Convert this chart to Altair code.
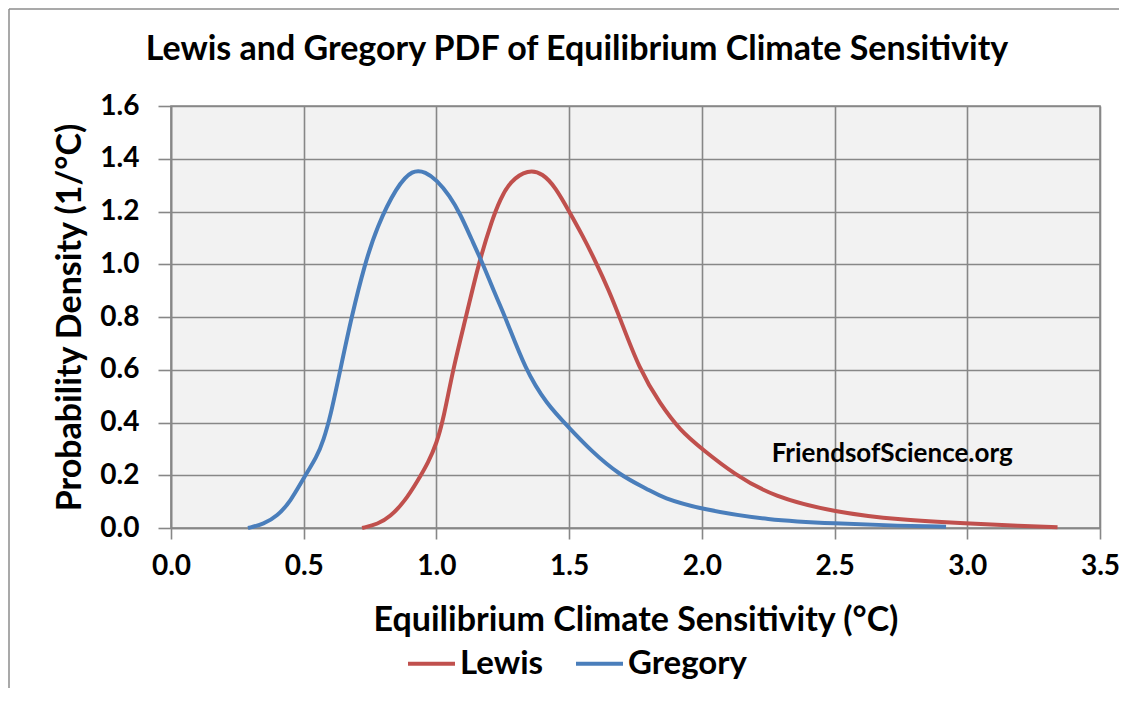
import altair as alt
import pandas as pd

# Gregory PDF
greg_x = [0.29, 0.35, 0.40, 0.45, 0.50, 0.55, 0.575, 0.60, 0.64, 0.68, 0.73, 0.775, 0.85, 0.91, 0.96,
          1.00, 1.05, 1.09, 1.13, 1.18, 1.215, 1.26, 1.335, 1.415, 1.50, 1.58, 1.69, 1.80, 1.85,
          2.00, 2.25, 2.50, 2.75, 2.92]
greg_y = [0.0, 0.015, 0.045, 0.10, 0.19, 0.27, 0.335, 0.42, 0.61, 0.80, 1.00, 1.14, 1.295, 1.36, 1.35,
          1.32, 1.26, 1.19, 1.10, 0.99, 0.90, 0.80, 0.60, 0.47, 0.38, 0.295, 0.20, 0.145, 0.115,
          0.07, 0.03, 0.017, 0.008, 0.005]

# Lewis PDF
lewis_x = [0.72, 0.78, 0.825, 0.88, 0.93, 0.97, 1.00, 1.026, 1.064, 1.114, 1.158, 1.21, 1.24, 1.277,
           1.346, 1.40, 1.45, 1.50, 1.55, 1.60, 1.65, 1.69, 1.765, 1.843, 1.918, 2.00, 2.12,
           2.27, 2.50, 2.75, 3.00, 3.20, 3.34]
lewis_y = [0.0, 0.015, 0.042, 0.10, 0.18, 0.25, 0.32, 0.41, 0.61, 0.81, 1.00, 1.17, 1.245, 1.315,
           1.36, 1.345, 1.29, 1.20, 1.11, 1.01, 0.90, 0.80, 0.60, 0.47, 0.37, 0.30, 0.205,
           0.118, 0.06, 0.03, 0.017, 0.008, 0.003]

series_names = ["Lewis", "Gregory"]
series_colors = ["#C0504D", "#4A7EBB"]

x_ticks = [0.0, 0.5, 1.0, 1.5, 2.0, 2.5, 3.0, 3.5]
y_ticks = [0.0, 0.2, 0.4, 0.6, 0.8, 1.0, 1.2, 1.4, 1.6]

title_text = ["Lewis and Gregory PDF of Equilibrium Climate Sensitivity"]
x_title = "Equilibrium Climate Sensitivity (°C)"
y_title = "Probability Density (1/°C)"
watermark = ["FriendsofScience.org"]
watermark_x = [2.717]
watermark_y = [0.28]

FONT = "Lato"
GRID = "#878787"

df = pd.concat([
    pd.DataFrame({"ecs": lewis_x, "pdf": lewis_y, "series": "Lewis", "order": range(len(lewis_x))}),
    pd.DataFrame({"ecs": greg_x, "pdf": greg_y, "series": "Gregory", "order": range(len(greg_x))}),
])

W, H = 929, 422
PAD_L, PAD_T, PAD_R, PAD_B = 163, 98, 19, 160

x_scale = alt.Scale(domain=[0, 3.5], nice=False)
y_scale = alt.Scale(domain=[0, 1.6], nice=False)

lines = alt.Chart(df).mark_line(strokeWidth=4, interpolate="basis").encode(
    x=alt.X("ecs:Q", scale=x_scale,
            axis=alt.Axis(values=x_ticks, format=".1f", title=x_title, labelFlush=False,
                          tickSize=11, labelPadding=13, titlePadding=23)),
    y=alt.Y("pdf:Q", scale=y_scale,
            axis=alt.Axis(values=y_ticks, format=".1f", title=y_title, labelFlush=False,
                          tickSize=13, labelPadding=19, titlePadding=12)),
    color=alt.Color("series:N",
                    scale=alt.Scale(domain=series_names, range=series_colors),
                    sort=series_names,
                    legend=alt.Legend(title=None, orient="none", direction="horizontal",
                                      legendX=235, legendY=532,
                                      symbolType="stroke", symbolSize=2209, symbolStrokeWidth=4,
                                      labelFont=FONT, labelFontSize=33, labelFontWeight="bold",
                                      labelColor="#000000", labelOffset=3, columnPadding=24)),
    detail="series:N",
    order="order:Q",
)

wm = alt.Chart(pd.DataFrame({"t": watermark, "x": watermark_x, "y": watermark_y})).mark_text(
    font=FONT, fontSize=26, fontWeight="bold", color="#000000", align="center", baseline="middle"
).encode(x=alt.X("x:Q", scale=x_scale), y=alt.Y("y:Q", scale=y_scale), text="t:N")

title = alt.Chart(pd.DataFrame({"t": title_text})).mark_text(
    font=FONT, fontSize=34, fontWeight="bold", color="#000000", align="center", baseline="alphabetic"
).encode(x=alt.value(406), y=alt.value(-46), text="t:N")

frame_top = alt.Chart(pd.DataFrame({"a": [0]})).mark_rule(color="#8c8c8c", strokeWidth=1.5).encode(
    x=alt.value(-PAD_L + 1), x2=alt.value(W + PAD_R), y=alt.value(-PAD_T + 1))
frame_left = alt.Chart(pd.DataFrame({"a": [0]})).mark_rule(color="#8c8c8c", strokeWidth=1.5).encode(
    x=alt.value(-PAD_L + 1), y=alt.value(-PAD_T + 1), y2=alt.value(H + PAD_B))

chart = alt.layer(lines, wm, title, frame_top, frame_left).properties(
    width=W, height=H,
    background="#FFFFFF",
    autosize=alt.AutoSizeParams(type="none"),
    padding={"left": PAD_L, "top": PAD_T, "right": PAD_R, "bottom": PAD_B},
).configure_view(
    fill="#F2F2F2", stroke=GRID, strokeWidth=1.6
).configure_axis(
    gridColor=GRID, gridWidth=1.6, gridOpacity=1,
    domainColor=GRID, domainWidth=1.6, tickColor=GRID, tickWidth=1.6,
    labelFont=FONT, labelFontSize=28, labelFontWeight="bold", labelColor="#000000",
    titleFont=FONT, titleFontSize=34, titleFontWeight="bold", titleColor="#000000",
)

chart.save("out.html", embed_options={"renderer": "svg", "actions": False})
